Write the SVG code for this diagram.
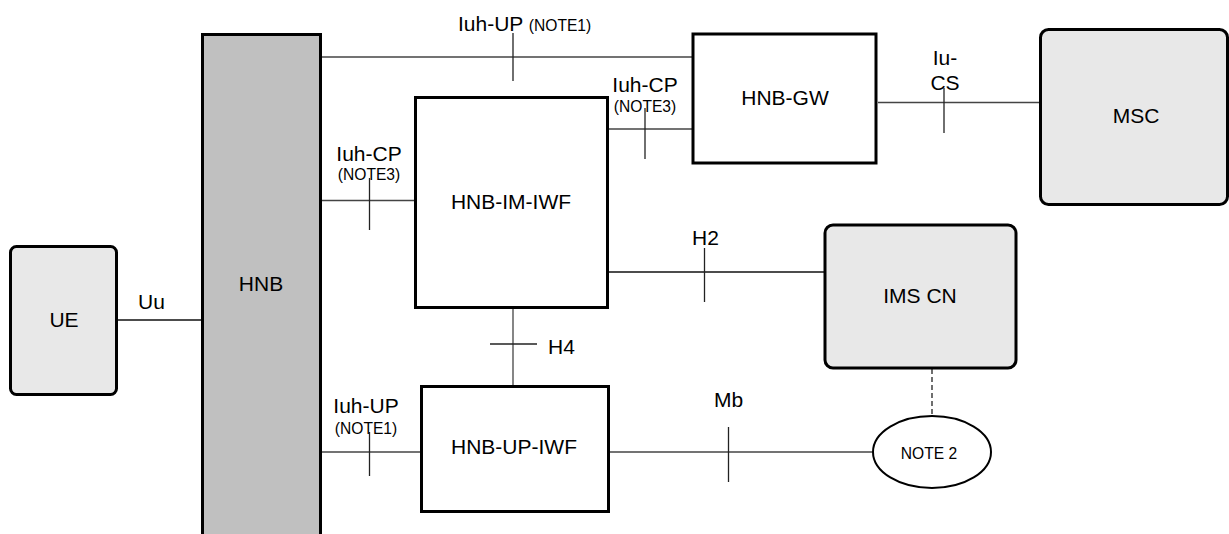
<svg xmlns="http://www.w3.org/2000/svg" width="1229" height="534" viewBox="0 0 1229 534">
<style>
text{font-family:"Liberation Sans",Arial,sans-serif;fill:#000}
.lbl{font-size:21px}
.sm{font-size:15.6px}
.mid{text-anchor:middle}
.box{fill:#fff;stroke:#000;stroke-width:3}
.rbox{fill:#e8e8e8;stroke:#000;stroke-width:3}
.ln{stroke:#444;stroke-width:1.3;fill:none}
.tk{stroke:#222;stroke-width:1.3;fill:none}
</style>
<rect width="1229" height="534" fill="#fff"/>
<g id="connectors">
<line class="ln" x1="322" y1="57" x2="692" y2="57"/>
<line class="tk" x1="513" y1="33" x2="513" y2="81"/>
<line class="ln" x1="609" y1="129" x2="692" y2="129"/>
<line class="tk" x1="645" y1="108" x2="645" y2="159"/>
<line class="ln" x1="878" y1="102.5" x2="1039" y2="102.5"/>
<line class="tk" x1="944" y1="88" x2="944" y2="133"/>
<line class="ln" x1="322" y1="200.5" x2="414" y2="200.5"/>
<line class="tk" x1="369.5" y1="178" x2="369.5" y2="230"/>
<line class="ln" x1="609" y1="272" x2="824" y2="272" style="stroke:#111"/>
<line class="tk" x1="704.5" y1="248" x2="704.5" y2="302"/>
<line class="ln" x1="118" y1="320" x2="201" y2="320" style="stroke:#111"/>
<line class="ln" x1="513" y1="309" x2="513" y2="385"/>
<line class="tk" x1="490" y1="344" x2="537" y2="344"/>
<line class="ln" x1="322" y1="452" x2="420" y2="452"/>
<line class="tk" x1="369.5" y1="432" x2="369.5" y2="476"/>
<line class="ln" x1="609" y1="452" x2="872" y2="452"/>
<line class="tk" x1="728.5" y1="427" x2="728.5" y2="482"/>
<line class="tk" x1="932" y1="369" x2="932" y2="415" stroke-dasharray="5,3"/>
<text class="lbl" x="458" y="31">Iuh-UP <tspan class="sm">(NOTE1)</tspan></text>
<text class="lbl mid" x="645" y="92">Iuh-CP</text>
<text class="sm mid" x="645" y="112">(NOTE3)</text>
<text class="lbl mid" x="945" y="65">Iu-</text>
<text class="lbl mid" x="945" y="90">CS</text>
<text class="lbl mid" x="369" y="161">Iuh-CP</text>
<text class="sm mid" x="369" y="180">(NOTE3)</text>
<text class="lbl" x="692" y="245">H2</text>
<text class="lbl" x="138" y="309">Uu</text>
<text class="lbl" x="548" y="354">H4</text>
<text class="lbl mid" x="366" y="413">Iuh-UP</text>
<text class="sm mid" x="366" y="434">(NOTE1)</text>
<text class="lbl" x="714" y="407">Mb</text>
</g>
<g id="HNB">
<rect x="202.5" y="34.5" width="118" height="520" fill="#c0c0c0" stroke="#000" stroke-width="3"/>
<text class="lbl mid" x="261" y="291">HNB</text>
</g>
<g id="UE">
<rect class="rbox" x="10.5" y="246.5" width="106" height="148" rx="6"/>
<text class="lbl mid" x="64" y="327">UE</text>
</g>
<g id="HNB-IM-IWF">
<rect class="box" x="415.5" y="97.5" width="192" height="210"/>
<text class="lbl mid" x="511" y="209">HNB-IM-IWF</text>
</g>
<g id="HNB-GW">
<rect class="box" x="693" y="34" width="183" height="129"/>
<text class="lbl mid" x="785" y="105">HNB-GW</text>
</g>
<g id="MSC">
<rect class="rbox" x="1040.5" y="29.5" width="187" height="175" rx="8"/>
<text class="lbl mid" x="1136" y="123">MSC</text>
</g>
<g id="IMS-CN">
<rect class="rbox" x="825" y="225" width="191" height="143" rx="8"/>
<text class="lbl mid" x="920" y="303">IMS CN</text>
</g>
<g id="HNB-UP-IWF">
<rect class="box" x="421.5" y="386.5" width="187" height="125"/>
<text class="lbl mid" x="514" y="454">HNB-UP-IWF</text>
</g>
<g id="NOTE2">
<ellipse cx="932" cy="452" rx="59" ry="36" fill="#fff" stroke="#000" stroke-width="2"/>
<text class="sm mid" x="929" y="459">NOTE 2</text>
</g>
</svg>
